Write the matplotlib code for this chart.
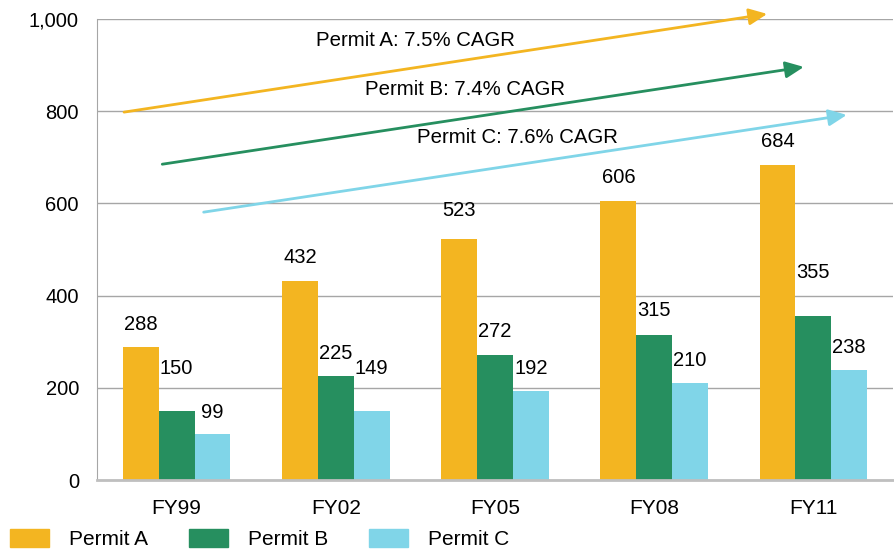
import numpy as np
import matplotlib; matplotlib.use("Agg")
import matplotlib.pyplot as plt
from matplotlib.patches import Patch

years = ["FY99", "FY02", "FY05", "FY08", "FY11"]
permit_a = [288, 432, 523, 606, 684]
permit_b = [150, 225, 272, 315, 355]
permit_c = [99, 149, 192, 210, 238]
names = ["Permit A", "Permit B", "Permit C"]
colors = ["#F3B521", "#268F5F", "#80D5E8"]
cagr = ["7.5%", "7.4%", "7.6%"]
# arrow ends (x in category units, y in value units)
arrows = [((-0.33, 798), (3.71, 1011)),
          ((-0.09, 685), (3.94, 896)),
          ((0.17, 581), (4.21, 792))]
label_pos = [(1.50, 954), (1.81, 848), (2.14, 744)]
# pixel gap between bar top and label centre (labels were placed by hand)
label_gap = [[23, 23, 28, 23, 23],
             [42, 23, 23, 24, 44],
             [22, 43, 23, 23, 23]]

plt.rcParams["font.family"] = ["Liberation Sans", "DejaVu Sans"]

fig = plt.figure(figsize=(8.94, 5.52), dpi=100)
ax = fig.add_axes([97/894, 1-480/552, 796/894, 461/552])

x = np.arange(len(years)); w = 0.225
for i, (vals, c) in enumerate(zip([permit_a, permit_b, permit_c], colors)):
    xs = x + (i-1)*w
    ax.bar(xs, vals, w, color=c, zorder=2)
    for xi, v, g in zip(xs, vals, label_gap[i]):
        ax.annotate(f"{v}", (xi, v), xytext=(0, g), textcoords="offset pixels",
                    ha="center", va="center", fontsize=14.5)

for (s, e), c, lp, nm, g in zip(arrows, colors, label_pos, names, cagr):
    ax.annotate("", xy=e, xytext=s, annotation_clip=False,
                arrowprops=dict(arrowstyle="-|>,head_length=0.55,head_width=0.25", color=c, lw=2,
                                mutation_scale=20, shrinkA=0, shrinkB=0), zorder=3)
    ax.text(lp[0], lp[1], f"{nm}: {g} CAGR", ha="center", va="center", fontsize=14.7)

ax.set_xlim(-0.5, 4.5); ax.set_ylim(0, 1000)
ax.set_yticks(range(0, 1001, 200))
ax.set_yticklabels([f"{v:,}" for v in range(0, 1001, 200)], fontsize=14.5)
ax.set_xticks(x); ax.set_xticklabels(years, fontsize=15)
ax.tick_params(length=0)
ax.tick_params(axis="x", pad=14)
ax.tick_params(axis="y", pad=13)
ax.grid(axis="y", color="#A6A6A6", lw=1, zorder=0)
ax.set_axisbelow(True)
for sp in ["top", "right"]:
    ax.spines[sp].set_visible(False)
ax.spines["left"].set_color("#A6A6A6")
ax.spines["bottom"].set_color("#BFBFBF"); ax.spines["bottom"].set_linewidth(2)

handles = [Patch(color=c, label=n) for c, n in zip(colors, names)]
fig.legend(handles=handles, ncol=3, loc="lower left", bbox_to_anchor=(10/894, 3/552),
           frameon=False, fontsize=15, handlelength=1.87, handleheight=0.96,
           handletextpad=0.96, columnspacing=1.97, borderpad=0, borderaxespad=0)

fig.savefig("out.png", dpi=100)
